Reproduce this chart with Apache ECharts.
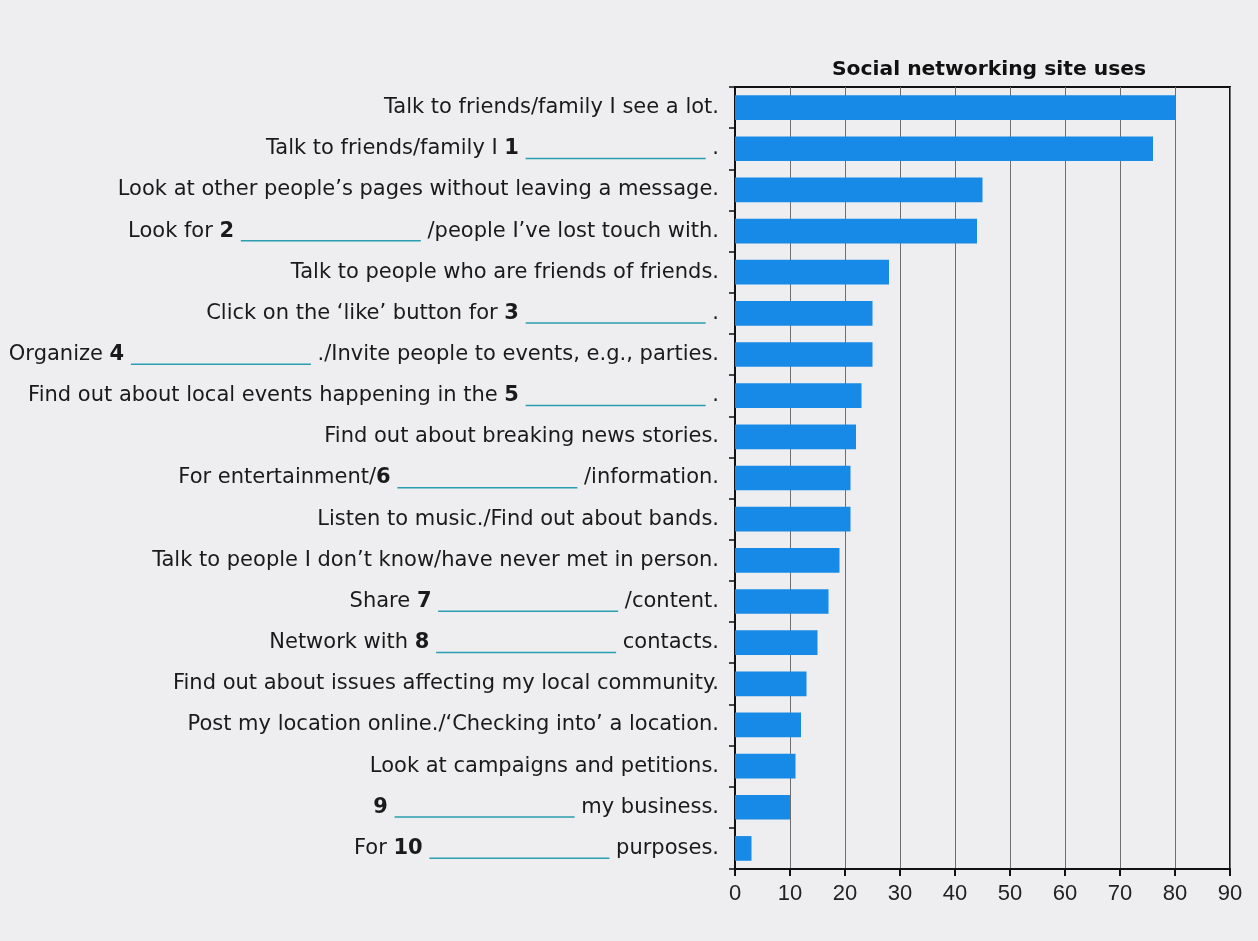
<!DOCTYPE html>
<html>
<head>
<meta charset="utf-8">
<style>
html,body{margin:0;padding:0;background:#eeeef0;}
#chart{width:1258px;height:941px;}
</style>
<script src="https://cdn.jsdelivr.net/npm/echarts@6/dist/echarts.min.js"></script>
</head>
<body>
<div id="chart"></div>
<script>
// [n] = bold blank number, ___ = fill-in blank line
const categories = [
  "Talk to friends/family I see a lot.",
  "Talk to friends/family I [1] ___ .",
  "Look at other people\u2019s pages without leaving a message.",
  "Look for [2] ___ /people I\u2019ve lost touch with.",
  "Talk to people who are friends of friends.",
  "Click on the \u2018like\u2019 button for [3] ___ .",
  "Organize [4] ___ ./Invite people to events, e.g., parties.",
  "Find out about local events happening in the [5] ___ .",
  "Find out about breaking news stories.",
  "For entertainment/[6] ___ /information.",
  "Listen to music./Find out about bands.",
  "Talk to people I don\u2019t know/have never met in person.",
  "Share [7] ___ /content.",
  "Network with [8] ___ contacts.",
  "Find out about issues affecting my local community.",
  "Post my location online./\u2018Checking into\u2019 a location.",
  "Look at campaigns and petitions.",
  "[9] ___ my business.",
  "For [10] ___ purposes."
];
const values = [80, 76, 45, 44, 28, 25, 25, 23, 22, 21, 21, 19, 17, 15, 13, 12, 11, 10, 3];
const xTicks = [0, 10, 20, 30, 40, 50, 60, 70, 80, 90];
const titleText = "Social networking site uses";

const chart = echarts.init(document.getElementById('chart'));
const FONT = "'DejaVu Sans', 'Liberation Sans', sans-serif";
const TICKFONT = "'Liberation Sans', Arial, sans-serif";

function fmt(s) {
  return s.replace(/\[(\d+)\]/g, '{b|$1}').replace(/___/g, '{u| }');
}

chart.setOption({
  backgroundColor: '#eeeef0',
  animation: false,
  title: {
    text: titleText,
    left: 984,
    top: 55,
    textAlign: 'center',
    textStyle: { fontFamily: FONT, fontSize: 20.3, fontWeight: 'bold', color: '#111' }
  },
  grid: {
    left: 735, right: 28, top: 87, bottom: 72,
    show: true, borderColor: '#111', borderWidth: 2, backgroundColor: 'transparent',
    containLabel: false
  },
  xAxis: {
    type: 'value',
    min: 0, max: 90, interval: 10,
    axisLine: { show: true, lineStyle: { color: '#111', width: 2 } },
    axisTick: { show: true, length: 7, lineStyle: { color: '#111', width: 2 } },
    axisLabel: {
      margin: 14,
      fontFamily: TICKFONT, fontSize: 22, color: '#222',
      formatter: v => xTicks.includes(v) ? String(v) : ''
    },
    splitLine: { show: true, lineStyle: { color: '#6f6f6f', width: 1 } }
  },
  yAxis: {
    type: 'category',
    inverse: true,
    data: categories,
    axisLine: { show: true, lineStyle: { color: '#111', width: 2 } },
    axisTick: { show: true, length: 6, lineStyle: { color: '#111', width: 1.5 } },
    axisLabel: {
      margin: 16,
      fontFamily: FONT, fontSize: 21, color: '#1a1a1a',
      formatter: v => fmt(v),
      rich: {
        b: { fontFamily: FONT, fontSize: 21, fontWeight: 'bold', color: '#1a1a1a' },
        u: { width: 180, height: 1.5, backgroundColor: '#2a9db0', verticalAlign: 'bottom', lineHeight: 1.5 }
      }
    },
    splitLine: { show: false }
  },
  series: [{
    type: 'bar',
    data: values,
    barCategoryGap: '40%',
    itemStyle: { color: '#168ae6' }
  }]
});
</script>
</body>
</html>
